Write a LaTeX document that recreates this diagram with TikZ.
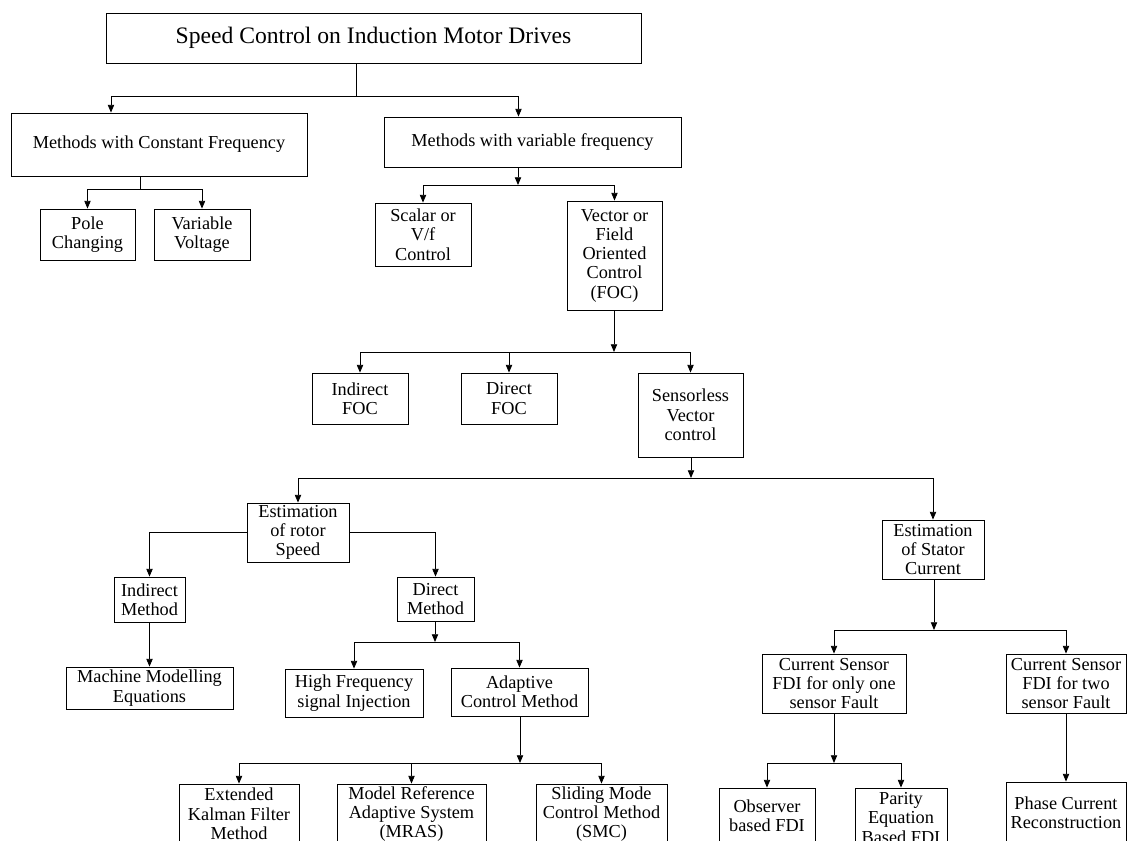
\documentclass[tikz,border=0pt]{standalone}
\usepackage{fontspec}
\setmainfont{Liberation Serif}
\usetikzlibrary{arrows.meta,positioning}

\begin{document}
\begin{tikzpicture}[x=0.025cm,y=-0.025cm,line width=0.6pt,
    >={Triangle[length=5.5pt,width=4.5pt]},
    box/.style={draw,align=center,inner sep=1pt,font=\fontsize{13}{13.7}\selectfont},
    headbox/.style={box,font=\fontsize{16.8}{18}\selectfont}]

    \clip (0,0) rectangle (1127,841);

    \node[headbox,minimum width=13.375cm,minimum height=1.25cm] (speed) at (373.5,38) {Speed Control on Induction Motor Drives};

    \node[box,minimum width=7.4cm,minimum height=1.575cm] (constf) at (159,144.5) {Methods with Constant Frequency};
    \node[box,minimum width=7.425cm,minimum height=1.25cm] (varf) at (532.5,142) {Methods with variable frequency};

    \node[box,minimum width=2.375cm,minimum height=1.275cm] (pole) at (87.5,234.5) {Pole\\Changing};
    \node[box,minimum width=2.4cm,minimum height=1.275cm] (volt) at (202,234.5) {Variable\\Voltage};
    \node[box,minimum width=2.4cm,minimum height=1.575cm] (scalar) at (423,234.5) {Scalar or\\V/f\\Control};
    \node[box,minimum width=2.375cm,minimum height=2.725cm] (foc) at (614.5,255.5) {Vector or\\Field\\Oriented\\Control\\(FOC)};

    \node[box,minimum width=2.4cm,minimum height=1.275cm] (ifoc) at (360,398.5) {Indirect\\FOC};
    \node[box,minimum width=2.4cm,minimum height=1.275cm] (dfoc) at (509,398.5) {Direct\\FOC};
    \node[box,minimum width=2.625cm,minimum height=2.1cm] (sensless) at (690.5,415) {Sensorless\\Vector\\control};

    \node[box,minimum width=2.55cm,minimum height=1.475cm] (rotor) at (298,532.5) {Estimation\\of rotor\\Speed};
    \node[box,minimum width=2.55cm,minimum height=1.475cm] (stator) at (933,549.5) {Estimation\\of Stator\\Current};

    \node[box,minimum width=1.775cm,minimum height=1.125cm] (indm) at (149.5,599.5) {Indirect\\Method};
    \node[box,minimum width=1.925cm,minimum height=1.1cm] (dirm) at (435.5,599) {Direct\\Method};
    \node[box,minimum width=4.175cm,minimum height=1.05cm] (model) at (149.5,688) {Machine Modelling\\Equations};
    \node[box,minimum width=3.45cm,minimum height=1.2cm] (hfsi) at (354,693) {High Frequency\\signal Injection};
    \node[box,minimum width=3.425cm,minimum height=1.2cm] (adapt) at (519.5,692) {Adaptive\\Control Method};

    \node[box,minimum width=3cm,minimum height=1.5cm] (ekf) at (239,814) {Extended\\Kalman Filter\\Method};
    \node[box,minimum width=3.725cm,minimum height=1.5cm] (mras) at (411.5,814) {Model Reference\\Adaptive System\\(MRAS)};
    \node[box,minimum width=3.275cm,minimum height=1.5cm] (smc) at (601.5,814) {Sliding Mode\\Control Method\\(SMC)};

    \node[box,minimum width=3.6cm,minimum height=1.475cm] (fdione) at (834,683.5) {Current Sensor\\FDI for only one\\sensor Fault};
    \node[box,minimum width=3cm,minimum height=1.475cm] (fditwo) at (1066,683.5) {Current Sensor\\FDI for two\\sensor Fault};
    \node[box,minimum width=2.4cm,minimum height=1.4cm] (observer) at (767,816) {Observer\\based FDI};
    \node[box,minimum width=2.3cm,minimum height=1.5cm] (parity) at (901,818) {Parity\\Equation\\Based FDI};
    \node[box,minimum width=3cm,minimum height=1.55cm] (phase) at (1066,813) {Phase Current\\Reconstruction};

    \coordinate (j1) at (356,96);
    \coordinate (j2) at (140,189);
    \coordinate (j3) at (518,185);
    \coordinate (j4) at (614,352);
    \coordinate (j5) at (691,478);
    \coordinate (j6) at (435,642);
    \coordinate (j7) at (520,763);
    \coordinate (j8) at (934,630);
    \coordinate (j9) at (834,763);

    \draw (speed.south -| j1) -- (j1);
    \draw[->] (j1) -| ([xshift=-1.2cm]constf.north);
    \draw[->] (j1) -| ([xshift=-0.35cm]varf.north);

    \draw (constf.south -| j2) -- (j2);
    \draw[->] (j2) -| (pole.north);
    \draw[->] (j2) -| (volt.north);

    \draw[->] (varf.south -| j3) -- (j3);
    \draw[->] (j3) -| (scalar.north);
    \draw[->] (j3) -| (foc.north);

    \draw[->] (foc.south -| j4) -- (j4);
    \draw[->] (j4) -| (ifoc.north);
    \draw[->] (j4) -| (dfoc.north);
    \draw[->] (j4) -| (sensless.north);

    \draw[->] (sensless.south -| j5) -- (j5);
    \draw[->] (j5) -| (rotor.north);
    \draw[->] (j5) -| (stator.north);

    \draw[->] (rotor.west) -| (indm.north);
    \draw[->] (rotor.east) -| (dirm.north);
    \draw[->] (indm) -- (model);

    \draw[->] (dirm.south -| j6) -- (j6);
    \draw[->] (j6) -| (hfsi.north);
    \draw[->] (j6) -| (adapt.north);

    \draw[->] (adapt.south -| j7) -- (j7);
    \draw[->] (j7) -| (ekf.north);
    \draw[->] (j7) -| (mras.north);
    \draw[->] (j7) -| (smc.north);

    \draw[->] (stator.south -| j8) -- (j8);
    \draw[->] (j8) -| (fdione.north);
    \draw[->] (j8) -| (fditwo.north);

    \draw[->] (fdione.south -| j9) -- (j9);
    \draw[->] (j9) -| (observer.north);
    \draw[->] (j9) -| (parity.north);
    \draw[->] (fditwo) -- (phase);

\end{tikzpicture}
\end{document}
